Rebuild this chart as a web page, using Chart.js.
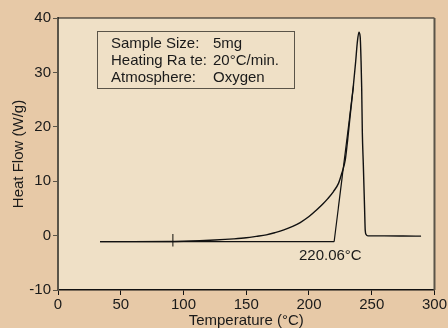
<!DOCTYPE html>
<html>
<head>
<meta charset="utf-8">
<script src="https://cdn.jsdelivr.net/npm/chart.js@4.4.0/dist/chart.umd.min.js"></script>
<style>
  html, body { margin: 0; padding: 0; background: #e7c9a7; }
  #wrap { width: 448px; height: 328px; }
</style>
</head>
<body>
<div id="wrap"><canvas id="dsc"></canvas></div>
<script>
// DSC scan data
const temps = [33.5, 60, 90, 100, 113, 125, 140, 150, 158, 166, 173, 180, 187, 193, 200, 206, 211, 215, 219.5, 223.5, 226.2, 228.9, 230.8, 233, 235.3, 237.2, 238.5, 239.8, 240.8, 241.5, 242, 242.5, 243.3, 244.3, 244.8, 245.5, 247, 260, 275, 289.3];
const heatFlow = [-1.1, -1.1, -1.08, -1.05, -0.95, -0.82, -0.6, -0.4, -0.15, 0.13, 0.55, 1.05, 1.7, 2.4, 3.5, 4.7, 5.8, 6.8, 8.1, 9.6, 11.5, 13.9, 17.6, 22.5, 27.4, 32.0, 35.5, 37.4, 36.5, 32.0, 27.0, 19.0, 13.0, 5.0, 1.0, 0.2, -0.05, -0.05, -0.07, -0.1];

const baselineT = [33.5, 220.06];
const baselineV = [-1.1, -1.1];
const tangentT = [220.06, 235.5];
const tangentV = [-1.1, 27.6];
const markerT = [91.5, 91.5];
const markerV = [0.3, -2.0];

const xTicks = [0, 50, 100, 150, 200, 250, 300];
const yTicks = [-10, 0, 10, 20, 30, 40];

const infoLabels = ['Sample Size:', 'Heating Ra te:', 'Atmosphere:'];
const infoValues = ['5mg', '20\u00b0C/min.', 'Oxygen'];
const onsetLabel = '220.06\u00b0C';

const pts = (xs, ys) => xs.map((x, i) => ({ x: x, y: ys[i] }));
const FONT = 'Liberation Sans, Arial, sans-serif';

const decor = {
    id: 'decor',
    beforeDraw(chart) {
        const { ctx, chartArea: a } = chart;
        ctx.save();
        ctx.fillStyle = '#efe0c6';
        ctx.fillRect(a.left, a.top, a.right - a.left, a.bottom - a.top);
        ctx.restore();
    },
    afterDraw(chart) {
        const { ctx, chartArea: a, scales } = chart;
        ctx.save();
        // top and right frame
        ctx.strokeStyle = '#111';
        ctx.lineWidth = 1.2;
        ctx.beginPath();
        ctx.moveTo(a.left, a.top);
        ctx.lineTo(a.right, a.top);
        ctx.stroke();
        ctx.strokeStyle = '#5a5448';
        ctx.lineWidth = 2;
        ctx.beginPath();
        ctx.moveTo(a.right, a.top);
        ctx.lineTo(a.right, a.bottom);
        ctx.stroke();

        // info box
        ctx.strokeStyle = '#5a5448';
        ctx.lineWidth = 1;
        ctx.strokeRect(97.5, 31.5, 197, 57);
        ctx.fillStyle = '#1a1a1a';
        ctx.font = '15px ' + FONT;
        ctx.textBaseline = 'middle';
        ctx.textAlign = 'left';
        infoLabels.forEach((t, i) => {
            ctx.fillText(t, 111, 44 + i * 17);
            ctx.fillText(infoValues[i], 213, 44 + i * 17);
        });

        // onset label
        ctx.textAlign = 'center';
        ctx.fillText(onsetLabel, scales.x.getPixelForValue(217), scales.y.getPixelForValue(-3.8));
        ctx.restore();
    }
};

new Chart(document.getElementById('dsc'), {
    type: 'line',
    data: {
        datasets: [
            {
                data: pts(temps, heatFlow),
                borderColor: '#111',
                borderWidth: 1.4,
                pointRadius: 0,
                cubicInterpolationMode: 'monotone'
            },
            {
                data: pts(baselineT, baselineV),
                borderColor: '#111',
                borderWidth: 1.4,
                pointRadius: 0
            },
            {
                data: pts(tangentT, tangentV),
                borderColor: '#111',
                borderWidth: 1.2,
                pointRadius: 0
            },
            {
                data: pts(markerT, markerV),
                borderColor: '#5a5448',
                borderWidth: 1.5,
                pointRadius: 0
            }
        ]
    },
    options: {
        responsive: true,
        maintainAspectRatio: false,
        animation: false,
        layout: {
            padding: { left: 0, top: 18, right: 13, bottom: 0 }
        },
        plugins: {
            legend: { display: false },
            tooltip: { enabled: false }
        },
        scales: {
            x: {
                type: 'linear',
                min: 0,
                max: 300,
                afterFit: s => { s.height = 38; },
                afterBuildTicks: s => { s.ticks = xTicks.map(v => ({ value: v })); },
                border: { color: '#111', width: 1.5 },
                grid: { drawOnChartArea: false, drawTicks: true, tickLength: 5, color: '#111' },
                ticks: { color: '#1a1a1a', font: { family: FONT, size: 15 }, padding: 1, maxRotation: 0 },
                title: {
                    display: true,
                    text: 'Temperature (\u00b0C)',
                    color: '#1a1a1a',
                    font: { family: FONT, size: 15, lineHeight: 1 },
                    padding: { top: 0, bottom: 0 }
                }
            },
            y: {
                min: -10,
                max: 40,
                afterFit: s => { s.width = 58; },
                afterBuildTicks: s => { s.ticks = yTicks.map(v => ({ value: v })); },
                border: { color: '#5a5448', width: 2 },
                grid: { drawOnChartArea: false, drawTicks: true, tickLength: 5, color: '#5a5448' },
                ticks: { color: '#1a1a1a', font: { family: FONT, size: 15 }, padding: 2 },
                title: {
                    display: true,
                    text: 'Heat Flow (W/g)',
                    color: '#1a1a1a',
                    font: { family: FONT, size: 15, lineHeight: 1 },
                    padding: { top: 11, bottom: 0 }
                }
            }
        }
    },
    plugins: [decor]
});
</script>
</body>
</html>
